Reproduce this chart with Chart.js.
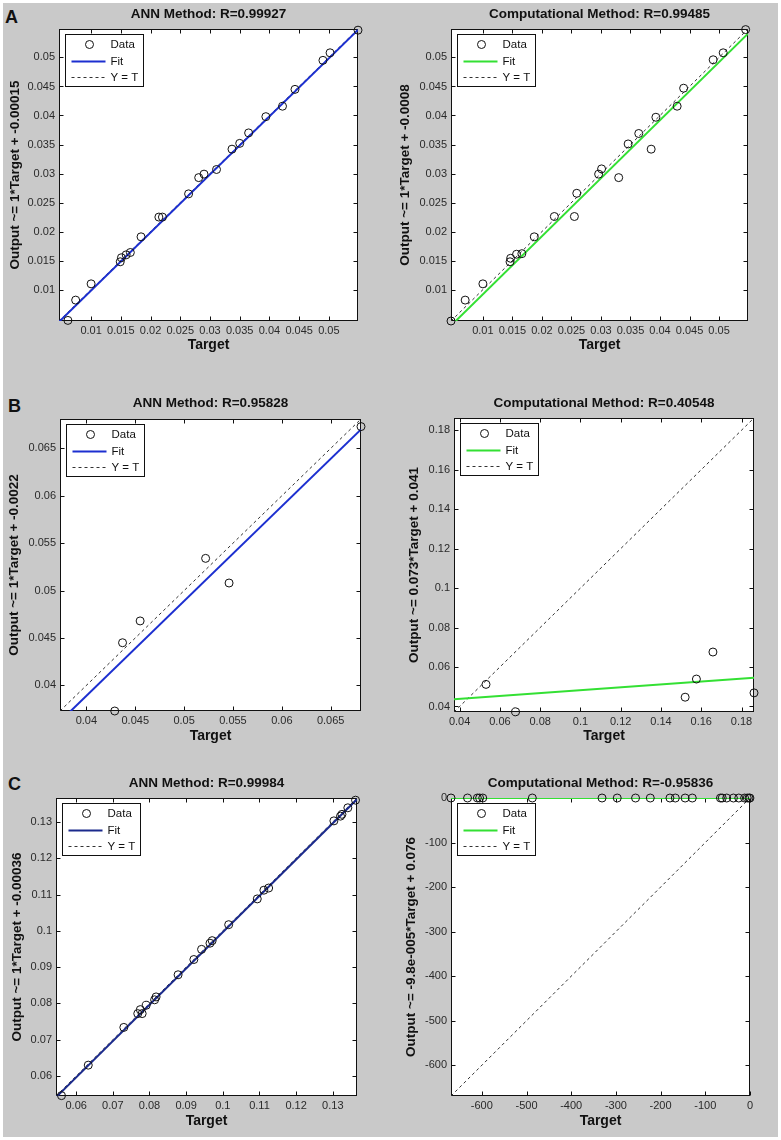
<!DOCTYPE html>
<html>
<head>
<meta charset="utf-8">
<title>Regression plots</title>
<script src="https://cdn.jsdelivr.net/npm/chart.js@4.4.1/dist/chart.umd.min.js"></script>
<style>
  html, body { margin: 0; padding: 0; background: #fff; }
  #fig { position: relative; width: 781px; height: 1140px; background: #fff; overflow: hidden; }
  #bg { position: absolute; left: 3px; top: 3px; width: 775px; height: 1134px; background: #c9c9c9; }
  canvas { position: absolute; }
  .tag { position: absolute; font: bold 18px "Liberation Sans", Arial, sans-serif; line-height: 18px; color: #111; }
</style>
</head>
<body>
<div id="fig">
  <div id="bg"></div>
  <span class="tag" style="left:5px;top:8px">A</span>
  <span class="tag" style="left:8px;top:397px">B</span>
  <span class="tag" style="left:8px;top:775px">C</span>
</div>

<script>
/* ---- values ---- */

// A: ANN method
const A_ANN_TARGET = [0.0061, 0.0074, 0.0100, 0.0149, 0.0151, 0.0159, 0.0166, 0.0184, 0.0214, 0.0220, 0.0264, 0.0281,
                      0.0290, 0.0311, 0.0337, 0.0350, 0.0365, 0.0394, 0.0422, 0.0443, 0.0490, 0.0502, 0.0549];
const A_ANN_OUTPUT = [0.0047, 0.0082, 0.0110, 0.0148, 0.0155, 0.0160, 0.0164, 0.0191, 0.0225, 0.0225, 0.0265, 0.0293,
                      0.0299, 0.0307, 0.0342, 0.0352, 0.0370, 0.0398, 0.0416, 0.0445, 0.0495, 0.0508, 0.0547];
// A: computational method
const A_CMP_TARGET = [0.0046, 0.0070, 0.0100, 0.0146, 0.0147, 0.0157, 0.0166, 0.0187, 0.0221, 0.0255, 0.0259, 0.0296,
                      0.0301, 0.0330, 0.0346, 0.0364, 0.0385, 0.0393, 0.0429, 0.0440, 0.0490, 0.0507, 0.0545];
const A_CMP_OUTPUT = [0.0046, 0.0082, 0.0110, 0.0148, 0.0154, 0.0161, 0.0162, 0.0191, 0.0226, 0.0226, 0.0266, 0.0299,
                      0.0308, 0.0293, 0.0351, 0.0369, 0.0342, 0.0397, 0.0416, 0.0447, 0.0496, 0.0508, 0.0548];
// B
const B_ANN_TARGET = [0.0429, 0.0437, 0.0455, 0.0522, 0.0546, 0.0681];
const B_ANN_OUTPUT = [0.0373, 0.0445, 0.0468, 0.0534, 0.0508, 0.0673];
const B_CMP_TARGET = [0.0531, 0.0678, 0.1520, 0.1576, 0.1658, 0.1862];
const B_CMP_OUTPUT = [0.0512, 0.0373, 0.0447, 0.0539, 0.0676, 0.0469];
// C
const C_ANN_TARGET = [0.0560, 0.0633, 0.0730, 0.0768, 0.0775, 0.0780, 0.0791, 0.0814, 0.0818, 0.0878, 0.0921, 0.0942,
                      0.0965, 0.0971, 0.1016, 0.1094, 0.1112, 0.1125, 0.1303, 0.1321, 0.1325, 0.1341, 0.1362];
const C_ANN_OUTPUT = [0.0546, 0.0630, 0.0734, 0.0772, 0.0783, 0.0772, 0.0795, 0.0810, 0.0818, 0.0879, 0.0921, 0.0949,
                      0.0966, 0.0973, 0.1017, 0.1088, 0.1112, 0.1118, 0.1303, 0.1316, 0.1321, 0.1339, 0.1360];
const C_CMP_TARGET = [-669, -632, -610, -605, -598, -487, -331, -297, -256, -223, -179, -167,
                      -145, -129, -66, -62, -52, -37, -25, -12, -6, -2, 0];
const C_CMP_OUTPUT = [0.14, 0.14, 0.13, 0.13, 0.13, 0.12, 0.11, 0.10, 0.10, 0.10, 0.09, 0.09,
                      0.09, 0.09, 0.08, 0.08, 0.08, 0.08, 0.08, 0.08, 0.08, 0.08, 0.08];

// axis limits (same for target and output) and tick values
const A_LIMITS = [0.0046, 0.0549];
const A_TICKS = [0.01, 0.015, 0.02, 0.025, 0.03, 0.035, 0.04, 0.045, 0.05];
const B_ANN_LIMITS = [0.0373, 0.0681];
const B_ANN_TICKS = [0.04, 0.045, 0.05, 0.055, 0.06, 0.065];
const B_CMP_LIMITS = [0.0372, 0.1862];
const B_CMP_TICKS = [0.04, 0.06, 0.08, 0.1, 0.12, 0.14, 0.16, 0.18];
const C_ANN_LIMITS = [0.0545, 0.1366];
const C_ANN_TICKS = [0.06, 0.07, 0.08, 0.09, 0.1, 0.11, 0.12, 0.13];
const C_CMP_LIMITS = [-669, 0.14];
const C_CMP_TICKS = [-600, -500, -400, -300, -200, -100, 0];

// fitted lines as drawn: output = slope * target + intercept
const FIT_SLOPE = [1, 1, 1, 0.073, 1, -9.8e-5];
const FIT_INTERCEPT = [-0.00015, -0.0008, -0.0011, 0.041, -0.00036, 0.076];

const TITLES = ['ANN Method: R=0.99927', 'Computational Method: R=0.99485',
                'ANN Method: R=0.95828', 'Computational Method: R=0.40548',
                'ANN Method: R=0.99984', 'Computational Method: R=-0.95836'];
const Y_LABELS = ['Output ~= 1*Target + -0.00015', 'Output ~= 1*Target + -0.0008',
                  'Output ~= 1*Target + -0.0022', 'Output ~= 0.073*Target + 0.041',
                  'Output ~= 1*Target + -0.00036', 'Output ~= -9.8e-005*Target + 0.076'];
const X_LABEL = 'Target';
const LEGEND_LABELS = ['Data', 'Fit', 'Y = T'];

/* ---- page layout of the six axes ---- */
const FONT = '"Liberation Sans", Arial, sans-serif';
const BLUE = '#1c2fd0', NAVY = '#1b2a8c', GREEN = '#33e033';

const panels = [
  { cx: 3,   cy: 3,   cw: 387, ch: 359, L: 59,  T: 29,  R: 358, B: 321,  titleY: 14,  xTitleY: 345,  yTitleX: 15,
    t: A_ANN_TARGET, o: A_ANN_OUTPUT, lim: A_LIMITS, ticks: A_TICKS, color: BLUE },
  { cx: 390, cy: 3,   cw: 388, ch: 359, L: 451, T: 29,  R: 748, B: 321,  titleY: 14,  xTitleY: 345,  yTitleX: 405,
    t: A_CMP_TARGET, o: A_CMP_OUTPUT, lim: A_LIMITS, ticks: A_TICKS, color: GREEN },
  { cx: 3,   cy: 362, cw: 387, ch: 388, L: 60,  T: 419, R: 361, B: 711,  titleY: 403, xTitleY: 736,  yTitleX: 14,
    t: B_ANN_TARGET, o: B_ANN_OUTPUT, lim: B_ANN_LIMITS, ticks: B_ANN_TICKS, color: BLUE },
  { cx: 390, cy: 362, cw: 388, ch: 388, L: 454, T: 418, R: 754, B: 712,  titleY: 403, xTitleY: 736,  yTitleX: 414,
    t: B_CMP_TARGET, o: B_CMP_OUTPUT, lim: B_CMP_LIMITS, ticks: B_CMP_TICKS, color: GREEN },
  { cx: 3,   cy: 750, cw: 387, ch: 387, L: 56,  T: 798, R: 357, B: 1096, titleY: 783, xTitleY: 1121, yTitleX: 17,
    t: C_ANN_TARGET, o: C_ANN_OUTPUT, lim: C_ANN_LIMITS, ticks: C_ANN_TICKS, color: NAVY },
  { cx: 390, cy: 750, cw: 388, ch: 387, L: 451, T: 798, R: 750, B: 1096, titleY: 783, xTitleY: 1121, yTitleX: 411,
    t: C_CMP_TARGET, o: C_CMP_OUTPUT, lim: C_CMP_LIMITS, ticks: C_CMP_TICKS, color: GREEN }
];

// MATLAB-style box: white axes, frame, inward ticks on all sides, title and legend inside
const matlabAxes = {
  id: 'matlabAxes',
  beforeDraw(chart) {
    const a = chart.chartArea, ctx = chart.ctx;
    ctx.save();
    ctx.fillStyle = '#fff';
    ctx.fillRect(a.left, a.top, a.right - a.left, a.bottom - a.top);
    ctx.restore();
  },
  beforeDatasetsDraw(chart) {
    const a = chart.chartArea, ctx = chart.ctx;
    const l = Math.round(a.left) + 0.5, r = Math.round(a.right) - 0.5;
    const t = Math.round(a.top) + 0.5, b = Math.round(a.bottom) - 0.5;
    ctx.save();
    ctx.strokeStyle = '#111';
    ctx.lineWidth = 1;
    ctx.strokeRect(l, t, r - l, b - t);
    ctx.beginPath();
    chart.scales.x.ticks.forEach(tk => {
      const px = Math.round(chart.scales.x.getPixelForValue(tk.value)) + 0.5;
      ctx.moveTo(px, b); ctx.lineTo(px, b - 4);
      ctx.moveTo(px, t); ctx.lineTo(px, t + 4);
    });
    chart.scales.y.ticks.forEach(tk => {
      const py = Math.round(chart.scales.y.getPixelForValue(tk.value)) + 0.5;
      ctx.moveTo(l, py); ctx.lineTo(l + 4, py);
      ctx.moveTo(r, py); ctx.lineTo(r - 4, py);
    });
    ctx.stroke();
    ctx.restore();
  },
  afterDatasetsDraw(chart, args, opts) {
    const a = chart.chartArea, ctx = chart.ctx;
    ctx.save();
    // title
    ctx.fillStyle = '#111';
    ctx.font = 'bold 13.5px ' + FONT;
    ctx.textAlign = 'center';
    ctx.textBaseline = 'middle';
    ctx.fillText(opts.title, (a.left + a.right) / 2, opts.titleY);

    // legend
    const bx = Math.round(a.left) + 6.5, by = Math.round(a.top) + 5.5, bw = 78, bh = 52;
    ctx.fillStyle = '#fff';
    ctx.fillRect(bx, by, bw, bh);
    ctx.strokeStyle = '#111';
    ctx.lineWidth = 1;
    ctx.strokeRect(bx, by, bw, bh);
    const rows = [by + 10, by + 27, by + 43];
    ctx.beginPath();
    ctx.arc(bx + 24, rows[0], 4, 0, Math.PI * 2);
    ctx.stroke();
    ctx.strokeStyle = opts.fitColor;
    ctx.lineWidth = 2;
    ctx.beginPath();
    ctx.moveTo(bx + 6, rows[1]); ctx.lineTo(bx + 40, rows[1]);
    ctx.stroke();
    ctx.strokeStyle = '#333';
    ctx.lineWidth = 1;
    ctx.setLineDash([3, 3]);
    ctx.beginPath();
    ctx.moveTo(bx + 6, rows[2]); ctx.lineTo(bx + 40, rows[2]);
    ctx.stroke();
    ctx.setLineDash([]);
    ctx.fillStyle = '#111';
    ctx.font = '11.5px ' + FONT;
    ctx.textAlign = 'left';
    LEGEND_LABELS.forEach((txt, i) => ctx.fillText(txt, bx + 45, rows[i]));
    ctx.restore();
  }
};

const fig = document.getElementById('fig');

panels.forEach((p, i) => {
  const canvas = document.createElement('canvas');
  canvas.width = p.cw;
  canvas.height = p.ch;
  canvas.style.left = p.cx + 'px';
  canvas.style.top = p.cy + 'px';
  canvas.style.width = p.cw + 'px';
  canvas.style.height = p.ch + 'px';
  fig.appendChild(canvas);

  const [lo, hi] = p.lim;
  const yAxisWidth = p.L - p.cx;
  const xAxisHeight = p.ch - (p.B - p.cy);
  const yLabelLine = 13.5 * 1.2, xLabelLine = 14 * 1.2;

  const points = p.t.map((t, k) => ({ x: t, y: p.o[k] }));
  const fit = [lo, hi].map(x => ({ x: x, y: FIT_SLOPE[i] * x + FIT_INTERCEPT[i] }));
  const ident = [lo, hi].map(v => ({ x: v, y: v }));

  const setTicks = scale => { scale.ticks = p.ticks.map(v => ({ value: v })); };
  const tickFont = { family: FONT, size: 11 };

  new Chart(canvas.getContext('2d'), {
    type: 'scatter',
    data: {
      datasets: [
        { label: 'Data', data: points, pointStyle: 'circle', pointRadius: 4, pointHoverRadius: 4,
          borderColor: '#111', backgroundColor: 'rgba(0,0,0,0)', borderWidth: 1, clip: false },
        { label: 'Fit', data: fit, showLine: true, borderColor: p.color, borderWidth: 2, pointRadius: 0 },
        { label: 'Y = T', data: ident, showLine: true, borderColor: '#333', borderWidth: 1,
          borderDash: [3, 3], pointRadius: 0 }
      ]
    },
    options: {
      responsive: false,
      animation: false,
      devicePixelRatio: 1,
      events: [],
      layout: { padding: { left: 0, top: p.T - p.cy, right: p.cx + p.cw - p.R, bottom: 0 } },
      scales: {
        x: {
          type: 'linear', min: lo, max: hi,
          afterBuildTicks: setTicks,
          afterFit: s => { s.height = xAxisHeight; },
          grid: { display: false, drawTicks: false, tickLength: 0 },
          border: { display: false },
          ticks: { callback: v => String(v), font: tickFont, color: '#2a2a2a', padding: 3,
                   autoSkip: false, maxRotation: 0 },
          title: { display: true, text: X_LABEL, color: '#111',
                   font: { family: FONT, size: 14, weight: 'bold' },
                   padding: { top: 0, bottom: p.ch - (p.xTitleY - p.cy) - xLabelLine / 2 } }
        },
        y: {
          type: 'linear', min: lo, max: hi,
          afterBuildTicks: setTicks,
          afterFit: s => { s.width = yAxisWidth; },
          grid: { display: false, drawTicks: false, tickLength: 0 },
          border: { display: false },
          ticks: { callback: v => String(v), font: tickFont, color: '#2a2a2a', padding: 4, autoSkip: false },
          title: { display: true, text: Y_LABELS[i], color: '#111',
                   font: { family: FONT, size: 13.5, weight: 'bold' },
                   padding: { top: (p.yTitleX - p.cx) - yLabelLine / 2, bottom: 0 } }
        }
      },
      plugins: {
        legend: { display: false },
        tooltip: { enabled: false },
        matlabAxes: { title: TITLES[i], titleY: p.titleY - p.cy, fitColor: p.color }
      }
    },
    plugins: [matlabAxes]
  });
});
</script>
</body>
</html>
